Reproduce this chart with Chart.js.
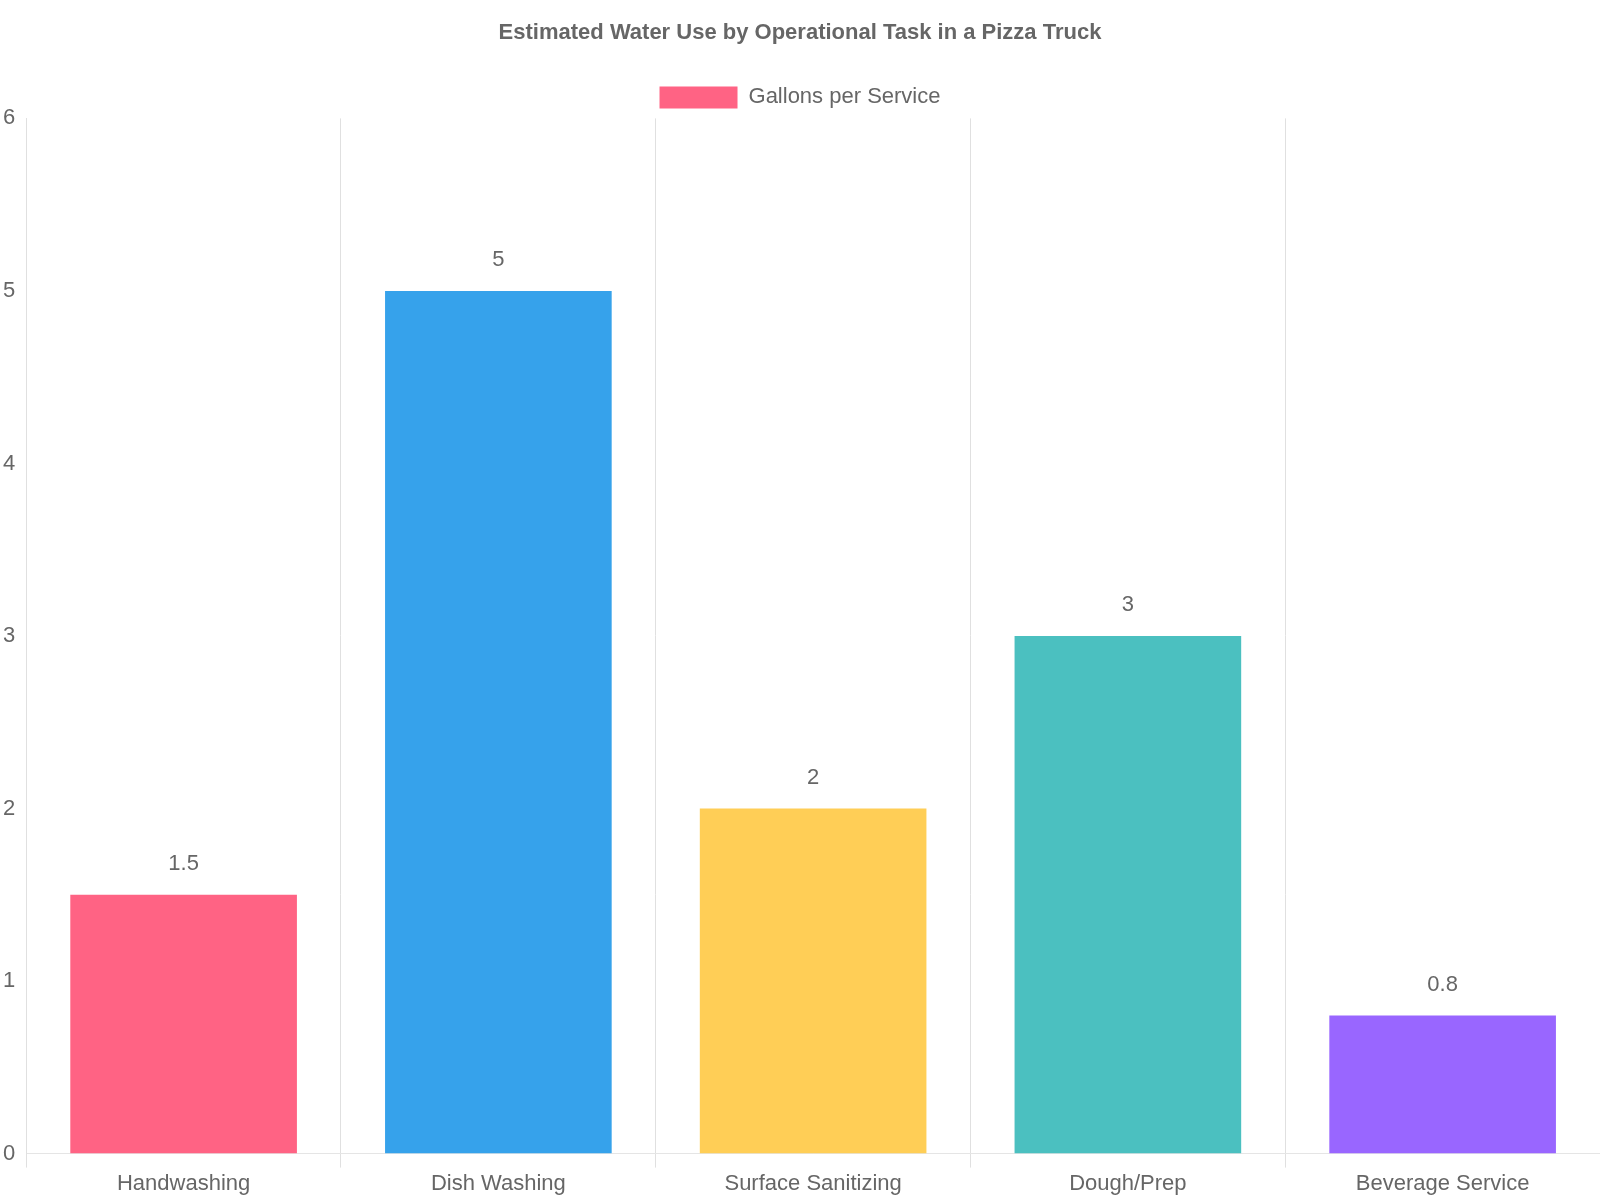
<!DOCTYPE html>
<html>
<head>
<meta charset="utf-8">
<script src="https://cdn.jsdelivr.net/npm/chart.js@4"></script>
<style>
  html, body { margin: 0; padding: 0; background: #fff; }
  #wrap { width: 1600px; height: 1200px; }
</style>
</head>
<body>
<div id="wrap"><canvas id="myChart"></canvas></div>
<script>
// data
var categories = ['Handwashing', 'Dish Washing', 'Surface Sanitizing', 'Dough/Prep', 'Beverage Service'];
var gallons = [1.5, 5, 2, 3, 0.8];
var barColors = ['#FF6384', '#36A2EB', '#FFCE56', '#4BC0C0', '#9966FF'];

Chart.defaults.font.family = '"Liberation Sans", Arial, sans-serif';
Chart.defaults.color = '#666';

// value labels above bars
var valueLabels = {
    id: 'valueLabels',
    afterDatasetsDraw: function (chart) {
        var ctx = chart.ctx;
        var meta = chart.getDatasetMeta(0);
        ctx.save();
        ctx.font = '22px "Liberation Sans", Arial, sans-serif';
        ctx.fillStyle = '#666';
        ctx.textAlign = 'center';
        ctx.textBaseline = 'bottom';
        meta.data.forEach(function (bar, i) {
            ctx.fillText(String(gallons[i]), bar.x, bar.y - 20);
        });
        ctx.restore();
    }
};

var ctx = document.getElementById('myChart');
var chart = new Chart(ctx, {
    type: 'bar',
    data: {
        labels: categories,
        datasets: [{
            label: 'Gallons per Service',
            data: gallons,
            backgroundColor: barColors,
            borderWidth: 0,
            categoryPercentage: 0.8,
            barPercentage: 0.9
        }]
    },
    options: {
        responsive: true,
        maintainAspectRatio: false,
        animation: false,
        layout: { padding: { right: 0, top: 0 } },
        plugins: {
            title: {
                display: true,
                text: 'Estimated Water Use by Operational Task in a Pizza Truck',
                font: { size: 22, weight: 'bold' },
                padding: { top: 20, bottom: 30 }
            },
            legend: {
                position: 'top',
                labels: { font: { size: 22 }, boxWidth: 78, boxHeight: 22, padding: 10 }
            },
            tooltip: { enabled: false }
        },
        scales: {
            x: {
                grid: { display: true, offset: true, color: '#e0e0e0', tickLength: 14 },
                ticks: { font: { size: 22 } }
            },
            y: {
                min: 0,
                max: 6,
                grid: { display: false },
                border: { display: true, color: '#e0e0e0' },
                ticks: { stepSize: 1, font: { size: 22 } }
            }
        }
    },
    plugins: [valueLabels]
});
</script>
</body>
</html>
